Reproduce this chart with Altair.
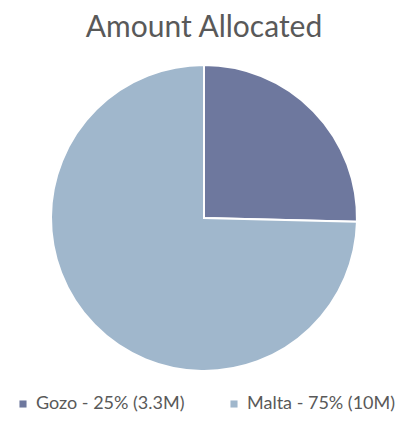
import altair as alt
import pandas as pd

categories = ["Gozo", "Malta"]
shares = [25.4, 74.6]
legend_labels = ["Gozo - 25% (3.3M)", "Malta - 75% (10M)"]
colors = ["#6e789e", "#a0b7cc"]

df = pd.DataFrame({"category": categories, "share": shares, "label": legend_labels})

chart = alt.Chart(df).mark_arc(outerRadius=153, stroke="white", strokeWidth=2).encode(
    theta=alt.Theta("share:Q", stack=True),
    order=alt.Order("category:N"),
    color=alt.Color(
        "label:N",
        scale=alt.Scale(domain=legend_labels, range=colors),
        legend=alt.Legend(
            title=None,
            orient="none",
            legendX=6,
            legendY=330,
            direction="horizontal",
            symbolType="square",
            symbolSize=50,
            symbolStrokeWidth=0,
            labelFont="Lato",
            labelFontSize=18,
            labelColor="#595959",
            columnPadding=40,
        ),
    ),
).properties(
    width=392,
    height=306,
    title=alt.TitleParams(
        "Amount Allocated",
        font="Lato",
        fontSize=30,
        fontWeight="normal",
        color="#595959",
        anchor="middle",
        offset=18,
    ),
).configure_view(stroke=None).configure(padding={"top": 5, "left": 0, "right": 0, "bottom": 0})

chart.save("out.html", embed_options={"renderer": "svg", "actions": False})
